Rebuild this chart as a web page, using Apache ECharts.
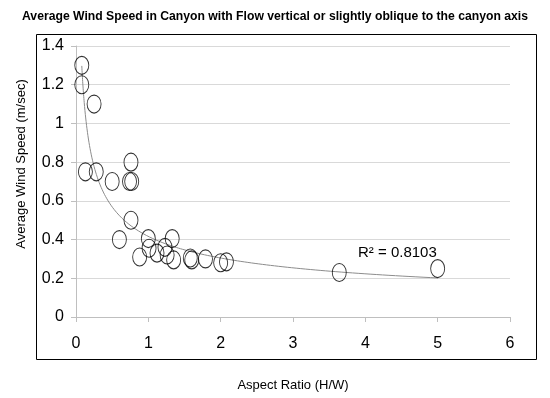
<!DOCTYPE html>
<html><head><meta charset="utf-8">
<script src="https://cdn.jsdelivr.net/npm/echarts@6/dist/echarts.min.js"></script>
<style>html,body{margin:0;padding:0;background:#fff}#c{width:550px;height:398px}</style>
</head><body><div id="c"></div>
<script>
var titleText = 'Average Wind Speed in Canyon with Flow vertical or slightly oblique to the canyon axis';
var xTitle = 'Aspect Ratio (H/W)';
var yTitle = 'Average Wind Speed (m/sec)';
var aspectRatio = [0.08,0.08,0.25,0.13,0.28,0.50,0.76,0.74,0.77,0.76,0.60,0.88,1.0,1.01,1.12,1.23,1.26,1.33,1.35,1.58,1.60,1.79,2.0,2.08,3.64,5.0];
var windSpeed   = [1.30,1.20,1.10,0.75,0.75,0.70,0.80,0.70,0.70,0.50,0.40,0.31,0.405,0.355,0.33,0.36,0.32,0.405,0.295,0.305,0.295,0.30,0.28,0.285,0.23,0.25];
var rSquaredText = 'R\u00B2 = 0.8103';

// power trendline y = a*x^b fitted by least squares in log space (as Excel does)
var n = aspectRatio.length, sx=0, sy=0, sxx=0, sxy=0;
for (var i=0;i<n;i++){var lx=Math.log(aspectRatio[i]), ly=Math.log(windSpeed[i]); sx+=lx; sy+=ly; sxx+=lx*lx; sxy+=lx*ly;}
var b = (n*sxy - sx*sy)/(n*sxx - sx*sx);
var a = Math.exp((sy - b*sx)/n);
var xmin = Math.min.apply(null, aspectRatio), xmax = Math.max.apply(null, aspectRatio);
var trend = [];
for (var k=0;k<=200;k++){var x = xmin*Math.pow(xmax/xmin,k/200); trend.push([x, a*Math.pow(x,b)]);}

var pts = aspectRatio.map(function(x,i){return [x, windSpeed[i]];});
var font = "'Liberation Sans', sans-serif";
var chart = echarts.init(document.getElementById('c'), null, {renderer:'canvas'});
chart.setOption({
  animation:false,
  title:{text:titleText, left:'center', top:6, textStyle:{fontFamily:font, fontWeight:'bold', fontSize:12.2, color:'#000'}},
  grid:{left:76, right:40, top:46, bottom:81},
  xAxis:{type:'value', min:0, max:6, interval:1,
    axisLine:{show:true, lineStyle:{color:'#bfbfbf'}},
    axisTick:{show:true, length:5, lineStyle:{color:'#bfbfbf'}},
    splitLine:{show:false},
    axisLabel:{fontFamily:font, fontSize:16, color:'#000', margin:19},
    name:xTitle, nameLocation:'middle', nameGap:62, nameTextStyle:{fontFamily:font, fontSize:13, color:'#000'}},
  yAxis:{type:'value', min:0, max:1.4, interval:0.2,
    axisLine:{show:true, lineStyle:{color:'#bfbfbf'}},
    axisTick:{show:true, length:5, lineStyle:{color:'#bfbfbf'}},
    splitLine:{show:true, lineStyle:{color:'#d9d9d9'}},
    axisLabel:{fontFamily:font, fontSize:16, color:'#000', margin:12, formatter:function(v){return String(Math.round(v*10)/10);}}},
  series:[
    {type:'line', data:trend, showSymbol:false, symbol:'none', lineStyle:{color:'#8c8c8c', width:1}, z:1, silent:true},
    {type:'scatter', data:pts, symbol:'circle', symbolSize:[14,18], itemStyle:{color:'rgba(0,0,0,0)', borderColor:'#000', borderWidth:1}, z:2}
  ],
  graphic:[
    {type:'rect', shape:{x:36.5, y:34.5, width:500, height:325}, style:{fill:null, stroke:'#000', lineWidth:1}, z:-1},
    {type:'text', x:21, y:164, rotation:Math.PI/2, style:{text:yTitle, font:"13px 'Liberation Sans', sans-serif", fill:'#000', align:'center', verticalAlign:'middle'}},
    {type:'text', left:358, top:245, style:{text:rSquaredText, font:"15px 'Liberation Sans', sans-serif", fill:'#000'}}
  ]
});
</script></body></html>
